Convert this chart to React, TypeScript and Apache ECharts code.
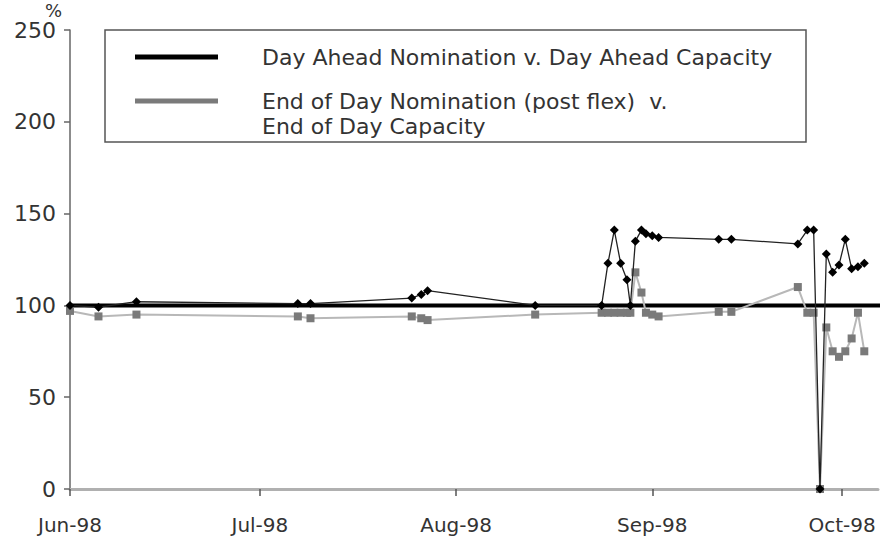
import React, { useEffect, useRef } from "react";
import * as echarts from "echarts";

const dates = [
  "1998-06-01", "1998-06-05 12:00", "1998-06-11 12:00",
  "1998-07-07", "1998-07-09", "1998-07-25", "1998-07-26 12:00", "1998-07-27 12:00",
  "1998-08-13 12:00", "1998-08-24", "1998-08-25", "1998-08-26", "1998-08-27", "1998-08-28",
  "1998-08-28 13:00", "1998-08-29 08:00", "1998-08-30 07:00", "1998-08-31",
  "1998-09-01", "1998-09-02", "1998-09-11 12:00", "1998-09-13 12:00", "1998-09-24",
  "1998-09-25 12:00", "1998-09-26 12:00", "1998-09-27 12:00", "1998-09-28 12:00",
  "1998-09-29 12:00", "1998-09-30 12:00", "1998-10-01 12:00", "1998-10-02 12:00",
  "1998-10-03 12:00", "1998-10-04 12:00",
];
const dayAhead = [
  100, 99, 102, 101, 101, 104, 106, 108, 100, 100, 123, 141, 123, 114, 100, 135, 141,
  139, 138, 137, 136, 136, 133.5, 141, 141, 0, 128, 118, 122, 136, 120, 121, 123,
];
const endOfDay = [
  97, 94, 95, 94, 93, 94, 93, 92, 95, 96, 96, 96, 96, 96, 96, 118, 107, 96, 95, 94,
  96.5, 96.5, 110, 96, 96, 0, 88, 75, 72, 75, 82, 96, 75,
];
const capacityDates = ["1998-06-01", "1998-10-08"];
const capacity = [100, 100];
const monthNames = ["Jan", "Feb", "Mar", "Apr", "May", "Jun", "Jul", "Aug", "Sep", "Oct", "Nov", "Dec"];
const yTicks = { min: 0, max: 250, interval: 50 };

const S1 = "Day Ahead Nomination v. Day Ahead Capacity";
const S2 = "End of Day Nomination (post flex)  v.\nEnd of Day Capacity";
const FONT = "DejaVu Sans";

export default function App() {
  const ref = useRef<HTMLDivElement>(null);
  useEffect(() => {
    if (!ref.current) return;
    const chart = echarts.init(ref.current, null, { renderer: "svg" });
    const option: any = {
      animation: false,
      backgroundColor: "#fff",
      textStyle: { fontFamily: FONT },
      grid: { left: 70, right: 10, top: 30, bottom: 52, outerBoundsMode: "none" },
      graphic: [
        {
          type: "rect",
          z: 1,
          shape: { x: 105, y: 30, width: 701, height: 112 },
          style: { fill: "#fff", stroke: "#555", lineWidth: 1.5 },
        },
      ],
      legend: [
        {
          data: [{ name: S1 }],
          left: 135,
          top: 44.5,
          orient: "vertical",
          padding: 0,
          icon: "rect",
          itemWidth: 83,
          itemHeight: 5,
          selectedMode: false,
          z: 10,
          textStyle: { fontFamily: FONT, fontSize: 22, color: "#333", padding: [0, 0, 0, 39], lineHeight: 25 },
        },
        {
          data: [{ name: S2 }],
          left: 135,
          top: 63.5,
          orient: "vertical",
          padding: 0,
          icon: "rect",
          itemWidth: 83,
          itemHeight: 5,
          selectedMode: false,
          z: 10,
          formatter: (name: string) => "\n" + name,
          textStyle: { fontFamily: FONT, fontSize: 22, color: "#333", padding: [0, 0, 0, 39], lineHeight: 25 },
        },
      ],
      xAxis: {
        type: "time",
        min: new Date(1998, 5, 1).getTime(),
        max: new Date(1998, 9, 6, 16).getTime(),
        minInterval: 28 * 86400000,
        maxInterval: 32 * 86400000,
        splitLine: { show: false },
        axisLine: { show: true, lineStyle: { color: "#b0b0b0", width: 3 } },
        axisTick: { show: true, length: 7, lineStyle: { color: "#555", width: 1.5 } },
        axisLabel: {
          fontFamily: FONT,
          fontSize: 20,
          color: "#333",
          margin: 26,
          showMinLabel: true,
          showMaxLabel: false,
          formatter: (v: number) => {
            const d = new Date(v);
            return monthNames[d.getMonth()] + "-" + String(d.getFullYear()).slice(2);
          },
        },
      },
      yAxis: {
        type: "value",
        min: yTicks.min,
        max: yTicks.max,
        interval: yTicks.interval,
        name: "%",
        nameLocation: "end",
        nameGap: 13,
        nameTextStyle: { fontFamily: FONT, fontSize: 18, color: "#333", align: "right", verticalAlign: "middle", padding: [0, 8, 0, 0] },
        splitLine: { show: false },
        axisLine: { show: true, lineStyle: { color: "#666", width: 1.5 } },
        axisTick: { show: true, length: 6, lineStyle: { color: "#666", width: 1.5 } },
        axisLabel: { fontFamily: FONT, fontSize: 22, color: "#333", margin: 14 },
      },
      series: [
        {
          name: "Capacity",
          type: "line",
          data: capacityDates.map((d, i) => [d, capacity[i]]),
          symbol: "none",
          clip: false,
          silent: true,
          z: 2,
          lineStyle: { color: "#000", width: 4 },
        },
        {
          name: S2,
          type: "line",
          data: dates.map((d, i) => [d, endOfDay[i]]),
          symbol: "rect",
          symbolSize: 8,
          z: 3,
          silent: true,
          itemStyle: { color: "#7a7a7a" },
          lineStyle: { color: "#b8b8b8", width: 2 },
        },
        {
          name: S1,
          type: "line",
          data: dates.map((d, i) => [d, dayAhead[i]]),
          symbol: "diamond",
          symbolSize: 9,
          z: 4,
          silent: true,
          itemStyle: { color: "#000" },
          lineStyle: { color: "#222", width: 1.3 },
        },
      ],
    };
    chart.setOption(option);
    return () => chart.dispose();
  }, []);
  return <div ref={ref} style={{ position: "fixed", left: 0, top: 0, width: 888, height: 541 }} />;
}
